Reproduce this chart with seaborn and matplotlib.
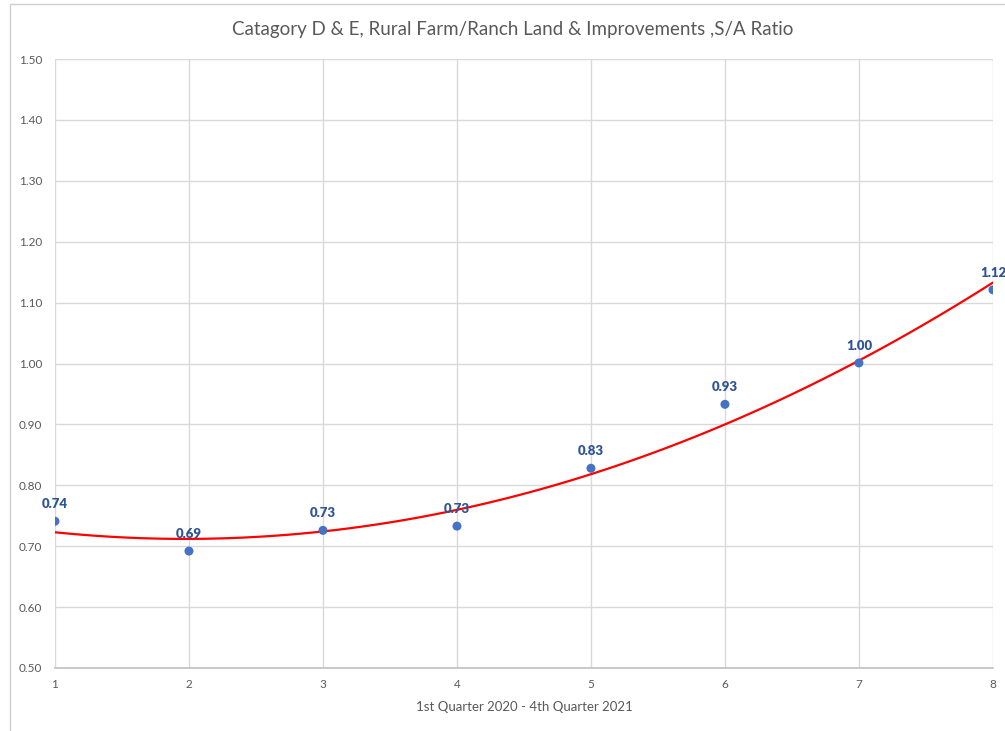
import matplotlib.pyplot as plt
import pandas as pd
import seaborn as sns
from matplotlib.patches import Rectangle

# Data
quarters = [1, 2, 3, 4, 5, 6, 7, 8]
sa_ratio = [0.741, 0.692, 0.726, 0.733, 0.828, 0.933, 1.001, 1.121]
y_ticks = [0.50, 0.60, 0.70, 0.80, 0.90, 1.00, 1.10, 1.20, 1.30, 1.40, 1.50]

df = pd.DataFrame({"quarter": quarters, "ratio": sa_ratio})

sns.set_style("white")
plt.rcParams['font.family'] = ['Lato', 'DejaVu Sans']

fig = plt.figure(figsize=(10.05, 7.31), dpi=100)
ax = fig.add_axes([0.0547, 0.0862, 0.9333, 0.833])

# Polynomial (order 2) trend line, like the Excel trendline
sns.regplot(data=df, x="quarter", y="ratio", order=2, ci=None, scatter=False,
            line_kws={"color": "#FF0000", "linewidth": 1.6, "zorder": 3}, ax=ax)
sns.scatterplot(data=df, x="quarter", y="ratio", color="#4472C4", s=42,
                edgecolor="none", zorder=4, ax=ax)

# Data labels
for q, r in zip(quarters, sa_ratio):
    ax.annotate(f"{r:.2f}", (q, r), textcoords="offset points", xytext=(0, 8),
                ha="center", va="bottom", fontsize=9.5, fontweight="heavy",
                color="#2F5597", annotation_clip=False)

ax.set_xlim(1, 8)
ax.set_ylim(0.5, 1.5)
ax.set_xticks(quarters)
ax.set_yticks(y_ticks)
ax.set_yticklabels([f"{t:.2f}" for t in y_ticks])
ax.grid(True, color="#D9D9D9", linewidth=1)
ax.set_axisbelow(True)
for side in ["top", "right", "left"]:
    ax.spines[side].set_visible(False)
ax.spines["bottom"].set_color("#BFBFBF")
ax.spines["bottom"].set_linewidth(1.2)
ax.tick_params(axis="both", length=0, labelsize=8.5, colors="#595959", pad=8)
ax.tick_params(axis="y", pad=9)

ax.set_xlabel("")
ax.set_ylabel("")
fig.text(0.522, 0.033, "1st Quarter 2020 - 4th Quarter 2021", ha="center",
         va="center", fontsize=9.5, color="#595959")
fig.text(0.51, 0.959, "Catagory D & E, Rural Farm/Ranch Land & Improvements ,S/A Ratio",
         ha="center", va="center", fontsize=13.5, color="#595959")

# Chart area border
fig.patches.append(Rectangle((0.010, -0.05), 1.1, 1.045, transform=fig.transFigure,
                             fill=False, edgecolor="#D0D0D0", linewidth=1))

fig.savefig("out.png", dpi=100)
